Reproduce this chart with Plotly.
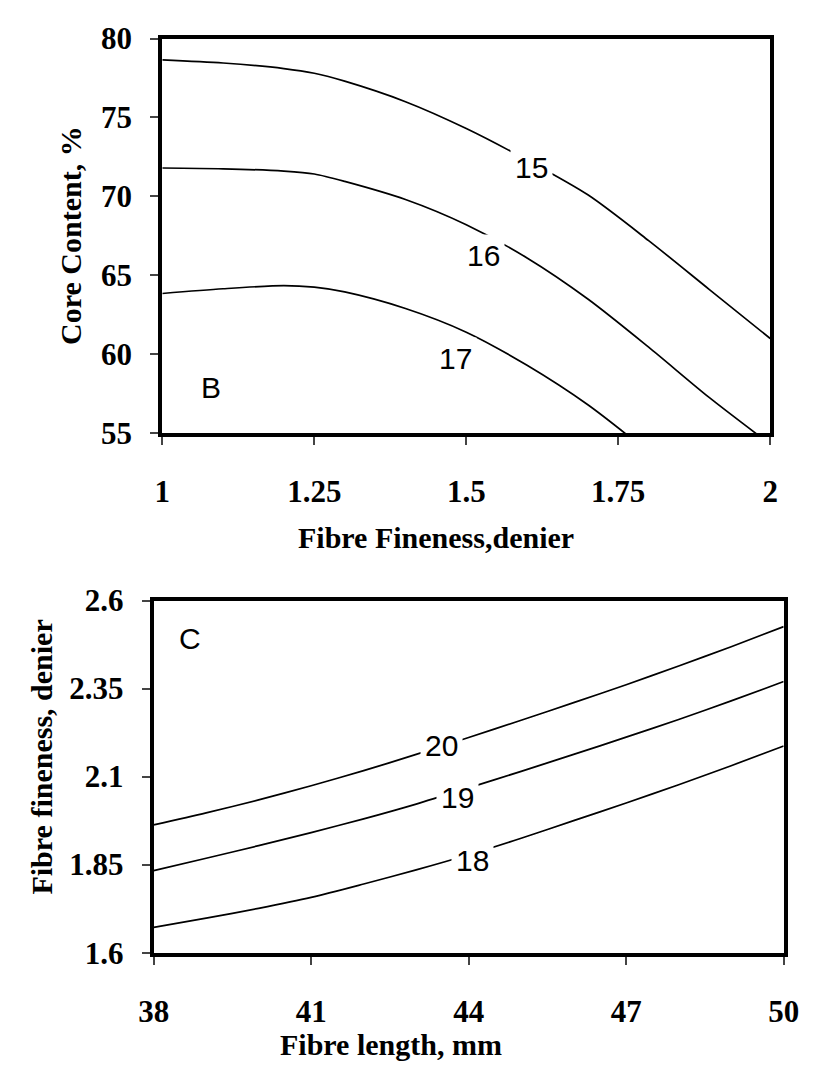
import plotly.graph_objects as go

# ---------------- Panel B data ----------------
fineness_B = [1.0, 1.1, 1.2, 1.25, 1.3, 1.4, 1.5, 1.6, 1.7, 1.8, 1.9, 2.0]
core_15 = [78.65, 78.45, 78.1, 77.8, 77.3, 76.0, 74.3, 72.3, 70.1, 67.2, 64.1, 61.0]
core_16 = [71.8, 71.75, 71.6, 71.42, 70.95, 69.8, 68.2, 66.1, 63.5, 60.45, 57.25, 54.3]
fineness_B17 = [1.0, 1.1, 1.2, 1.25, 1.3, 1.4, 1.5, 1.6, 1.7, 1.8]
core_17 = [63.85, 64.15, 64.35, 64.25, 63.95, 62.9, 61.4, 59.3, 56.8, 53.8]
labels_B = ["15", "16", "17"]
label_pos_B_x = [1.608, 1.528, 1.483]
label_pos_B_y = [71.8, 66.27, 59.74]

# ---------------- Panel C data ----------------
length_C = [38, 39, 40, 41, 42, 43, 44, 45, 46, 47, 48, 49, 50]
fine_20 = [1.963, 1.997, 2.034, 2.074, 2.117, 2.163, 2.211, 2.26, 2.31, 2.361, 2.414, 2.469, 2.526]
fine_19 = [1.833, 1.868, 1.904, 1.941, 1.98, 2.022, 2.068, 2.115, 2.163, 2.212, 2.262, 2.315, 2.37]
fine_18 = [1.672, 1.698, 1.726, 1.757, 1.795, 1.835, 1.878, 1.925, 1.975, 2.025, 2.077, 2.131, 2.187]
labels_C = ["20", "19", "18"]
label_pos_C_x = [43.49, 43.78, 44.07]
label_pos_C_y = [2.188, 2.041, 1.861]

xticks_B = [1, 1.25, 1.5, 1.75, 2]
yticks_B = [55, 60, 65, 70, 75, 80]
xticks_C = [38, 41, 44, 47, 50]
yticks_C = [1.6, 1.85, 2.1, 2.35, 2.6]

# the page body has an 8 px margin; size the figure so it fills the window
OFF = 8
W, H = 816 - OFF, 1079 - OFF
def px(x):
    return (x - OFF) / W
def py(y):
    return 1 - (y - OFF) / H

SERIF = "Liberation Serif, Times New Roman, serif"
SANS = "Liberation Sans, Arial, sans-serif"
line_style = dict(color="black", width=1.7, shape="spline", smoothing=0.8)

fig = go.Figure()
fig.add_trace(go.Scatter(x=fineness_B, y=core_15, mode="lines", line=line_style, xaxis="x", yaxis="y"))
fig.add_trace(go.Scatter(x=fineness_B, y=core_16, mode="lines", line=line_style, xaxis="x", yaxis="y"))
fig.add_trace(go.Scatter(x=fineness_B17, y=core_17, mode="lines", line=line_style, xaxis="x", yaxis="y"))
fig.add_trace(go.Scatter(x=length_C, y=fine_20, mode="lines", line=line_style, xaxis="x2", yaxis="y2"))
fig.add_trace(go.Scatter(x=length_C, y=fine_19, mode="lines", line=line_style, xaxis="x2", yaxis="y2"))
fig.add_trace(go.Scatter(x=length_C, y=fine_18, mode="lines", line=line_style, xaxis="x2", yaxis="y2"))

annotations = []
lab_font = dict(family=SANS, size=30, color="black")
for t, x, y in zip(labels_B, label_pos_B_x, label_pos_B_y):
    annotations.append(dict(x=x, y=y, xref="x", yref="y", text=t, showarrow=False,
                            xanchor="center", yanchor="middle",
                            font=lab_font, bgcolor="white", borderpad=4))
for t, x, y in zip(labels_C, label_pos_C_x, label_pos_C_y):
    annotations.append(dict(x=x, y=y, xref="x2", yref="y2", text=t, showarrow=False,
                            xanchor="center", yanchor="middle",
                            font=lab_font, bgcolor="white", borderpad=4))
annotations.append(dict(x=1.08, y=57.88, xref="x", yref="y", text="B", showarrow=False,
                        xanchor="center", yanchor="middle",
                        font=dict(family=SANS, size=30, color="black")))
annotations.append(dict(x=38.7, y=2.493, xref="x2", yref="y2", text="C", showarrow=False,
                        xanchor="center", yanchor="middle",
                        font=dict(family=SANS, size=30, color="black")))

title_font = dict(family=SERIF, size=30, color="black", weight="bold")
def title_ann(text, cx, cy, angle=0):
    return dict(x=px(cx), y=py(cy), xref="paper", yref="paper", text=text,
                textangle=angle, showarrow=False, xanchor="center", yanchor="middle",
                font=title_font)
annotations.append(title_ann("Core Content, %", 57, 226, -90))
annotations.append(title_ann("Fibre Fineness,denier", 437, 538))
annotations.append(title_ann("Fibre fineness, denier", 26, 765, -90))
annotations.append(title_ann("Fibre length, mm", 390, 1062))

tick_font = dict(family=SERIF, size=31, color="black", weight="bold")
common = dict(showline=True, mirror=True, linewidth=4, linecolor="black",
              ticks="outside", ticklen=8, tickwidth=1.5, tickcolor="#444",
              showgrid=False, zeroline=False, tickfont=tick_font)

fig.update_layout(
    width=W, height=H,
    margin=dict(l=0, r=0, t=0, b=0),
    paper_bgcolor="white", plot_bgcolor="white",
    showlegend=False,
    xaxis=dict(domain=[px(152), px(785)], range=[1, 2], anchor="y",
               tickvals=xticks_B, ticktext=[str(v) for v in xticks_B],
               ticklabelstandoff=20, **common),
    yaxis=dict(domain=[py(430), py(22)], range=[55, 80], anchor="x",
               tickvals=yticks_B, ticktext=[str(v) for v in yticks_B],
               ticklabelstandoff=12, **common),
    xaxis2=dict(domain=[px(143), px(799)], range=[38, 50], anchor="y2",
                tickvals=xticks_C, ticktext=[str(v) for v in xticks_C],
                ticklabelstandoff=20, **common),
    yaxis2=dict(domain=[py(967), py(603)], range=[1.6, 2.6], anchor="x2",
                tickvals=yticks_C, ticktext=[str(v) for v in yticks_C],
                ticklabelstandoff=12, **common),
    annotations=annotations,
)

fig.write_html("out.html")
